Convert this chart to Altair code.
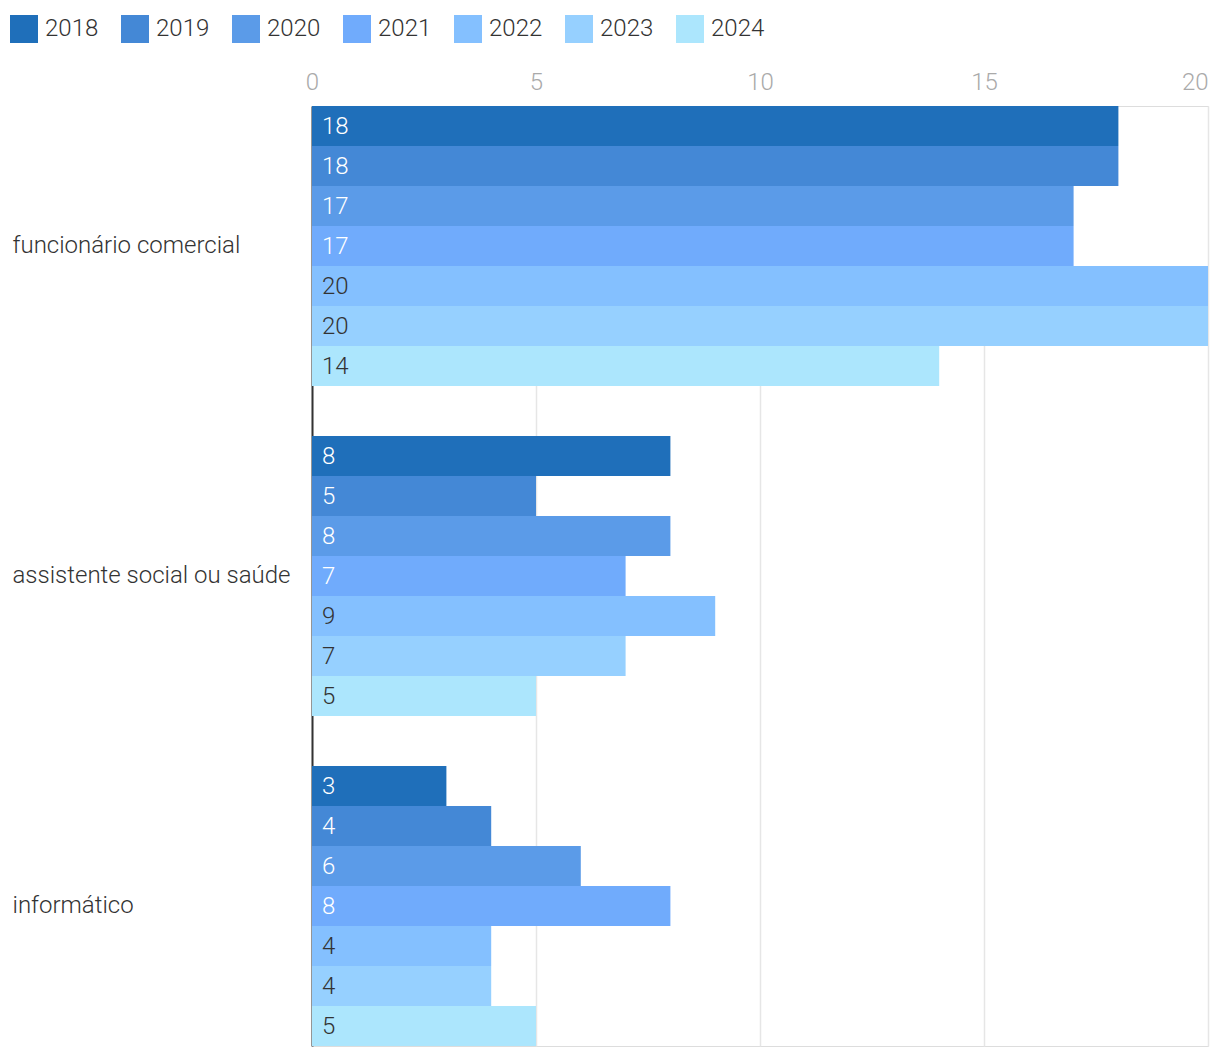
import altair as alt
import pandas as pd

categories = ["funcionário comercial", "assistente social ou saúde", "informático"]
years = ["2018", "2019", "2020", "2021", "2022", "2023", "2024"]
values_funcionario = [18, 18, 17, 17, 20, 20, 14]
values_assistente = [8, 5, 8, 7, 9, 7, 5]
values_informatico = [3, 4, 6, 8, 4, 4, 5]
colors = ["#1f6fba", "#4488d6", "#5b9be8", "#70abfc", "#84c0ff", "#96d0ff", "#ace6fd"]

rows = []
for cat, vals in zip(categories, [values_funcionario, values_assistente, values_informatico]):
    for yr, v in zip(years, vals):
        rows.append({"category": cat, "year": yr, "value": v})
df = pd.DataFrame(rows)

FONT = "Roboto"
FW = 300
FS = 24

y_enc = alt.Y(
    "category:N",
    sort=categories,
    scale=alt.Scale(paddingInner=50 / 330, paddingOuter=0),
    axis=alt.Axis(
        title=None,
        labelAlign="left",
        labelPadding=300,
        ticks=False,
        domain=True,
        domainColor="#333333",
        domainWidth=2,
        labelFontSize=FS,
        labelFont=FONT,
        labelFontWeight=FW,
        labelColor="#333333",
        grid=False,
        labelLimit=400,
    ),
)
yoff = alt.YOffset("year:N", sort=years, scale=alt.Scale(paddingInner=0, paddingOuter=0))

bars = alt.Chart(df).mark_bar().encode(
    x=alt.X(
        "value:Q",
        scale=alt.Scale(domain=[0, 20], nice=False),
        axis=alt.Axis(
            orient="top",
            title=None,
            values=[0, 5, 10, 15, 20],
            ticks=False,
            domain=False,
            labelColor="#aaaaaa",
            labelFontSize=FS,
            labelFont=FONT,
            labelFontWeight=FW,
            labelPadding=12,
            labelFlush=False,
            labelAlign=alt.ExprRef(expr="datum.value == 20 ? 'right' : 'center'"),
            grid=True,
            gridColor="#e6e6e6",
            gridWidth=1.5,
        ),
    ),
    y=y_enc,
    yOffset=yoff,
    color=alt.Color(
        "year:N",
        sort=years,
        scale=alt.Scale(domain=years, range=colors),
        legend=alt.Legend(
            title=None,
            orient="none",
            legendX=-302,
            legendY=-91,
            direction="horizontal",
            columns=7,
            symbolType="square",
            symbolSize=784,
            symbolStrokeWidth=0,
            symbolOpacity=1,
            labelFontSize=FS,
            labelFont=FONT,
            labelFontWeight=FW,
            labelColor="#333333",
            labelOffset=7,
            columnPadding=22,
        ),
    ),
)

labels = alt.Chart(df).mark_text(
    align="left", baseline="middle", dx=10, dy=1, fontSize=FS, font=FONT, fontWeight=FW
).encode(
    x=alt.datum(0),
    y=alt.Y("category:N", sort=categories),
    yOffset=yoff,
    text="value:Q",
    color=alt.condition("toNumber(datum.year) <= 2021", alt.value("#ffffff"), alt.value("#333333")),
)

chart = (
    alt.layer(bars, labels)
    .properties(
        width=896,
        height=940,
        autosize=alt.AutoSizeParams(type="none"),
        padding={"left": 312, "top": 106, "right": 12, "bottom": 12},
    )
    .configure_view(stroke=None)
    .configure(background="#ffffff")
)

chart.save("out.html", embed_options={"renderer": "svg", "actions": False})
